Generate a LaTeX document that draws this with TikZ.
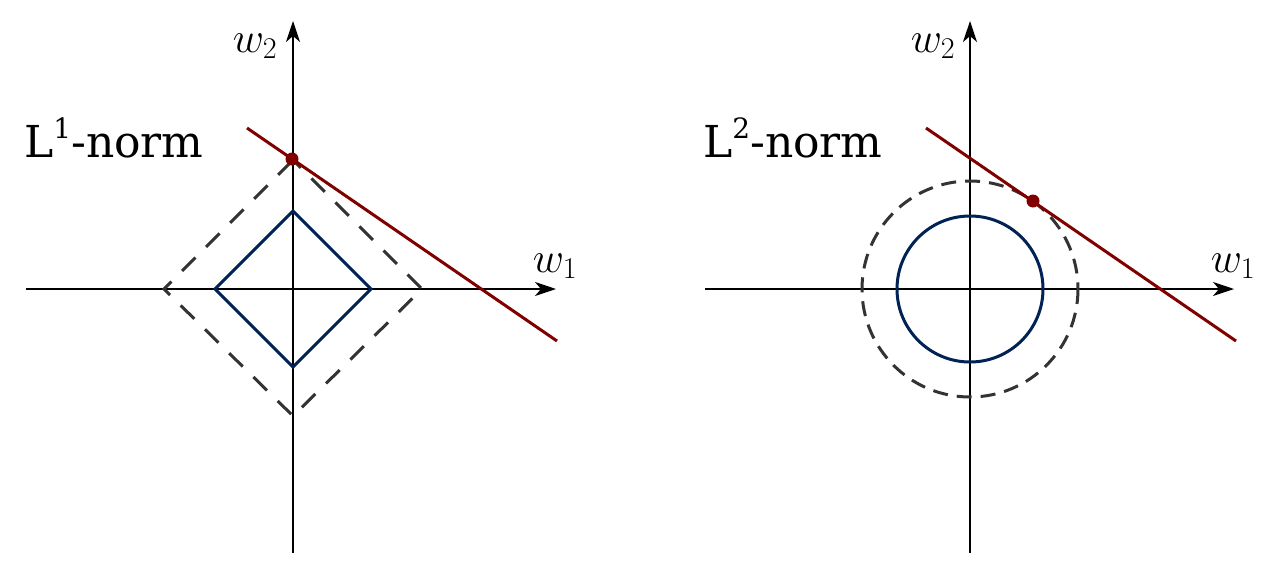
\RequirePackage{fix-cm}
\documentclass[tikz,border=0pt]{standalone}
\usepackage{fontspec}
\newfontfamily\lblfont{DejaVu Serif}
\usetikzlibrary{arrows.meta}
\definecolor{redline}{HTML}{800000}
\definecolor{bluel}{HTML}{002255}
\definecolor{dgray}{HTML}{333333}
\tikzset{
  axis/.style={line width=1.4pt, black, -{Stealth[length=21pt,width=14pt,inset=6pt]}},
  unitball/.style={line width=3pt, bluel, line join=miter},
  bigball/.style={line width=3pt, dgray},
  diamdash/.style={dash pattern=on 19pt off 15pt, dash phase=8pt},
  circdash/.style={dash pattern=on 15pt off 9pt},
  cline/.style={line width=3pt, redline},
  touch/.style={circle, fill=redline, inner sep=0pt, minimum size=13pt},
  normlbl/.style={font=\lblfont\fontsize{44}{50}\selectfont, inner sep=0pt, anchor=base west},
  axlbl/.style={font=\fontsize{43}{48}\selectfont, inner sep=0pt},
}
\begin{document}
\begin{tikzpicture}[x=1pt,y=-1pt]
\useasboundingbox (0,0) rectangle (1280,576);
% ---------- left panel ----------
\coordinate (Lxs) at (26,289);
\coordinate (Lxe) at (556,289);
\coordinate (Lys) at (293,553);
\coordinate (Lye) at (293,21);
\draw[axis] (Lxs) -- (Lxe);
\draw[axis] (Lys) -- (Lye);
\draw[bigball, diamdash] (293,160) -- (422,289) -- (293,416) -- (164,289) -- cycle;
\draw[unitball] (293,211) -- (371,289) -- (293,367) -- (215,289) -- cycle;
\coordinate (La) at (247,128);
\coordinate (Lb) at (557,341);
\draw[cline] (La) -- (Lb);
\node[touch] (Ldot) at (292,159) {};
\node[normlbl] (Lnorm) at (24,157) {L\raisebox{0.42em}{\fontsize{28}{30}\selectfont 1}-norm};
\node[axlbl] (Lw2) at (255,46) {$w_2$};
\node[axlbl] (Lw1) at (555,266) {$w_1$};
% ---------- right panel ----------
\coordinate (Rxs) at (705,289);
\coordinate (Rxe) at (1234,289);
\coordinate (Rys) at (970,553);
\coordinate (Rye) at (970,21);
\draw[axis] (Rxs) -- (Rxe);
\draw[axis] (Rys) -- (Rye);
\draw[bigball, circdash] (970,289) circle[radius=108];
\draw[unitball] (970,289) circle[radius=73];
\coordinate (Ra) at (926,128);
\coordinate (Rb) at (1236,341);
\draw[cline] (Ra) -- (Rb);
\node[touch] (Rdot) at (1033,201) {};
\node[normlbl] (Rnorm) at (703,157) {L\raisebox{0.42em}{\fontsize{28}{30}\selectfont 2}-norm};
\node[axlbl] (Rw2) at (933,46) {$w_2$};
\node[axlbl] (Rw1) at (1233,266) {$w_1$};
\end{tikzpicture}
\end{document}
